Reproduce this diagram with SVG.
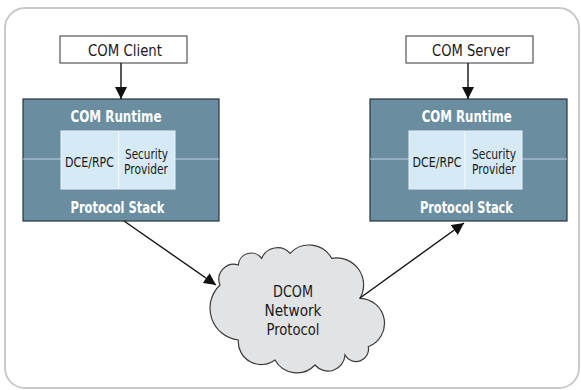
<svg xmlns="http://www.w3.org/2000/svg" width="581" height="390" viewBox="0 0 581 390">
  <defs>
    <marker id="arrow" viewBox="0 0 12 12" refX="12" refY="6" markerWidth="12" markerHeight="12" markerUnits="userSpaceOnUse" orient="auto">
      <path d="M0,0 L12,6 L0,12 Z" fill="#111"/>
    </marker>
    <style>
      .frame { fill: #fff; stroke: #c9c9c9; stroke-width: 2; }
      .app { fill: #fff; stroke: #333; stroke-width: 1; }
      .runtime { fill: #6a8ea0; stroke: #26343a; stroke-width: 1.2; }
      .layer { stroke: #b7cfdb; stroke-width: 1.2; }
      .inner { fill: #d6eaf6; stroke: #e8f3fa; stroke-width: 1; }
      .split { stroke: #f2f8fc; stroke-width: 1.2; }
      .cloud { fill: #e2e3e5; stroke: #3a3a3a; stroke-width: 1.2; }
      .edge { stroke: #111; stroke-width: 1.4; fill: none; }
      text { font-family: "DejaVu Sans", "Liberation Sans", sans-serif; text-anchor: middle; }
      .lbl { font-size: 15.5px; fill: #1a1a1a; }
      .hdr { font-size: 15px; font-weight: bold; fill: #fff; }
      .sm { font-size: 13.5px; fill: #1a1a1a; }
      .net { font-size: 16px; fill: #1a1a1a; }
    </style>
  </defs>

  <!-- outer panel -->
  <rect class="frame" x="5" y="8" width="574" height="380" rx="20" ry="20"/>

  <!-- client side application -->
  <g id="com-client">
    <rect class="app" x="60" y="36" width="127" height="27"/>
    <text class="lbl" x="125" y="56" textLength="74" lengthAdjust="spacingAndGlyphs">COM Client</text>
  </g>

  <!-- client side runtime stack -->
  <g id="client-runtime">
    <rect class="runtime" x="23" y="99" width="196" height="122"/>
    <line class="layer" x1="23" y1="159" x2="61" y2="159"/>
    <line class="layer" x1="175" y1="159" x2="219" y2="159"/>
    <rect class="inner" x="61" y="131" width="114" height="58"/>
    <line class="split" x1="118.5" y1="131" x2="118.5" y2="189"/>
    <text class="hdr" x="116" y="121.5" textLength="91" lengthAdjust="spacingAndGlyphs">COM Runtime</text>
    <text class="sm" x="89.5" y="166.5" textLength="49" lengthAdjust="spacingAndGlyphs">DCE/RPC</text>
    <text class="sm" x="146.5" y="159" textLength="43" lengthAdjust="spacingAndGlyphs">Security</text>
    <text class="sm" x="146" y="174" textLength="44" lengthAdjust="spacingAndGlyphs">Provider</text>
    <text class="hdr" x="117.5" y="213" textLength="94" lengthAdjust="spacingAndGlyphs">Protocol Stack</text>
  </g>

  <!-- server side application -->
  <g id="com-server">
    <rect class="app" x="406" y="36" width="127" height="27"/>
    <text class="lbl" x="471" y="56" textLength="78" lengthAdjust="spacingAndGlyphs">COM Server</text>
  </g>

  <!-- server side runtime stack -->
  <g id="server-runtime">
    <rect class="runtime" x="370" y="99" width="197" height="122"/>
    <line class="layer" x1="370" y1="159" x2="409" y2="159"/>
    <line class="layer" x1="522" y1="159" x2="567" y2="159"/>
    <rect class="inner" x="409" y="131" width="113" height="58"/>
    <line class="split" x1="465" y1="131" x2="465" y2="189"/>
    <text class="hdr" x="466.7" y="121.5" textLength="90" lengthAdjust="spacingAndGlyphs">COM Runtime</text>
    <text class="sm" x="437" y="166.5" textLength="49" lengthAdjust="spacingAndGlyphs">DCE/RPC</text>
    <text class="sm" x="494" y="159" textLength="44" lengthAdjust="spacingAndGlyphs">Security</text>
    <text class="sm" x="494" y="174" textLength="44" lengthAdjust="spacingAndGlyphs">Provider</text>
    <text class="hdr" x="466.4" y="213" textLength="93" lengthAdjust="spacingAndGlyphs">Protocol Stack</text>
  </g>

  <!-- network cloud -->
  <g id="dcom-network">
    <path class="cloud" d="M220,285
      A15,15 0 0,1 238.3,265
      A13,13 0 0,1 261.7,258.3
      A17,17 0 0,1 290,253.3
      A26,26 0 0,1 331.7,258.3
      A27,27 0 0,1 360,298.3
      A25,25 0 0,1 368.3,346.7
      A12.5,12.5 0 0,1 345,355
      A17,17 0 0,1 315,365
      A25,25 0 0,1 275,360
      A23,23 0 0,1 238.3,340
      A32,32 0 0,1 220,285 Z"/>
    <text class="net" x="293" y="297" textLength="40" lengthAdjust="spacingAndGlyphs">DCOM</text>
    <text class="net" x="293" y="316" textLength="57" lengthAdjust="spacingAndGlyphs">Network</text>
    <text class="net" x="293" y="334.5" textLength="53" lengthAdjust="spacingAndGlyphs">Protocol</text>
  </g>

  <!-- connectors -->
  <g id="connectors">
    <line class="edge" x1="121" y1="63" x2="121" y2="99" marker-end="url(#arrow)"/>
    <line class="edge" x1="468" y1="63" x2="468" y2="99" marker-end="url(#arrow)"/>
    <line class="edge" x1="124" y1="221" x2="216" y2="285" marker-end="url(#arrow)"/>
    <line class="edge" x1="360" y1="298" x2="464" y2="223" marker-end="url(#arrow)"/>
  </g>
</svg>
